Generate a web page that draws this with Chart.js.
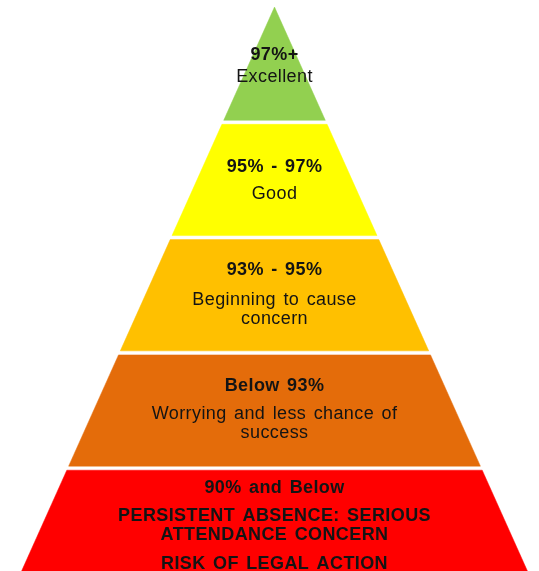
<!DOCTYPE html>
<html>
<head>
<meta charset="utf-8">
<script src="https://cdn.jsdelivr.net/npm/chart.js@4/dist/chart.umd.min.js"></script>
<style>
  html, body { margin: 0; padding: 0; background: #ffffff; }
  #wrap { width: 539px; height: 571px; position: relative; }
</style>
</head>
<body>
<div id="wrap"><canvas id="c"></canvas></div>
<script>
// Tiers, listed from top (apex) to bottom
const tierTitles = ['97%+', '95% - 97%', '93% - 95%', 'Below 93%', '90% and Below'];
const tierDescriptions = [
  [['Excellent']],
  [['Good']],
  [['Beginning to cause', 'concern']],
  [['Worrying and less chance of', 'success']],
  [['PERSISTENT ABSENCE: SERIOUS', 'ATTENDANCE CONCERN'], ['RISK OF LEGAL ACTION']]
];
const tierLower = [4, 3, 2, 1, 0];   // pyramid level where each tier starts
const tierUpper = [5, 4, 3, 2, 1];   // pyramid level where each tier ends
const tierColours = ['#92D050', '#FFFF00', '#FFC000', '#E46C0A', '#FF0000'];
const apexLevel = 5;

// styling (not data)
const gapLevels = 0.0175;            // half of the white gap between tiers
const titleGap = [22, 27, 30, 28, 28];
const lineStep = 19;
const paraStep = 29;
const boldDescription = [false, false, false, false, true];
const textShift = [2.5, 2, 1, 0.5, 1.5];

function tierPolygon(i) {
  const lo = tierLower[i] + (tierLower[i] === 0 ? 0 : gapLevels);
  const hi = tierUpper[i] - (tierUpper[i] === apexLevel ? 0 : gapLevels);
  const wLo = apexLevel - lo, wHi = apexLevel - hi;
  return [
    { x: -wLo, y: lo }, { x: wLo, y: lo },
    { x: wHi, y: hi }, { x: -wHi, y: hi },
    { x: -wLo, y: lo }
  ];
}

const datasets = tierTitles.map((t, i) => ({
  label: t,
  data: tierPolygon(i),
  showLine: true,
  fill: 'shape',
  backgroundColor: tierColours[i],
  borderColor: tierColours[i],
  borderWidth: 0.5,
  pointRadius: 0,
  pointHoverRadius: 0,
  tension: 0
}));

const textPlugin = {
  id: 'tierText',
  afterDatasetsDraw(chart) {
    const ctx = chart.ctx;
    const xs = chart.scales.x, ys = chart.scales.y;
    const cx = xs.getPixelForValue(0);
    ctx.save();
    ctx.textAlign = 'center';
    ctx.textBaseline = 'middle';
    ctx.fillStyle = '#141414';
    if ('letterSpacing' in ctx) ctx.letterSpacing = '0.4px';
    if ('wordSpacing' in ctx) ctx.wordSpacing = '2px';
    tierTitles.forEach((title, i) => {
      const lines = [{ text: title, bold: true, off: 0 }];
      let off = titleGap[i];
      tierDescriptions[i].forEach((para, p) => {
        if (p > 0) off += paraStep - lineStep;
        para.forEach((ln) => {
          lines.push({ text: ln, bold: boldDescription[i], off: off });
          off += lineStep;
        });
      });
      const last = lines[lines.length - 1].off;
      const cy = ys.getPixelForValue((tierLower[i] + tierUpper[i]) / 2) + textShift[i] - 1.5;
      const top = cy - last / 2;
      lines.forEach(l => {
        ctx.font = (l.bold ? 'bold ' : '') + '18px "Liberation Sans", Arial, sans-serif';
        ctx.fillText(l.text, cx, top + l.off);
      });
    });
    ctx.restore();
  }
};

new Chart(document.getElementById('c'), {
  type: 'scatter',
  data: { datasets },
  options: {
    responsive: true,
    maintainAspectRatio: false,
    animation: false,
    layout: { padding: 0 },
    plugins: { legend: { display: false }, tooltip: { enabled: false } },
    events: [],
    scales: {
      x: { type: 'linear', display: false, min: -5.31, max: 5.116 },
      y: { type: 'linear', display: false, min: 0.108, max: 5.061 }
    }
  },
  plugins: [textPlugin]
});
</script>
</body>
</html>
